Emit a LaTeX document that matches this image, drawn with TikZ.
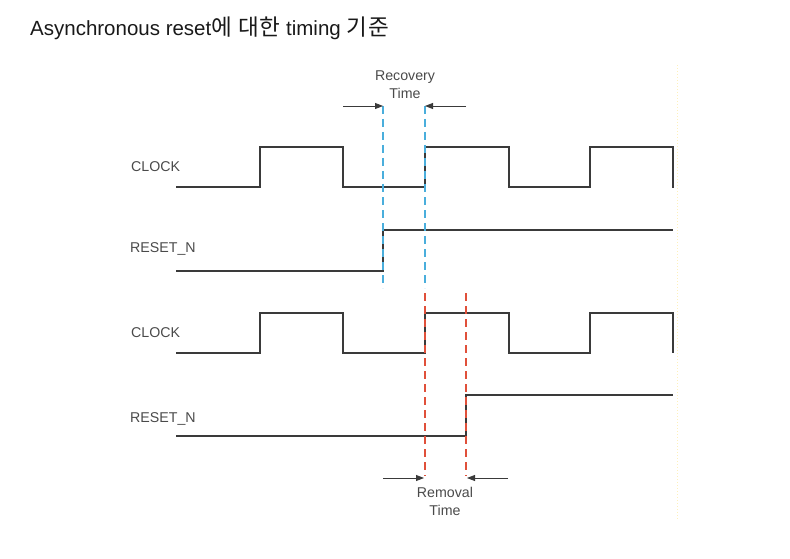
\documentclass[tikz,border=0pt]{standalone}
\usepackage{fontspec}
\setmainfont{Liberation Sans}
\newfontfamily\krfont{Noto Sans CJK KR}[Scale=1.1,LetterSpace=4]
\usetikzlibrary{arrows.meta}
\definecolor{sig}{HTML}{3A3A3A}
\definecolor{lbl}{HTML}{4A4A4A}
\definecolor{bluedash}{HTML}{4AAEDC}
\definecolor{reddash}{HTML}{E0503A}
\begin{document}
\begin{tikzpicture}[x=1pt,y=-1pt,
  wave/.style={draw=sig,line width=1.8pt,line join=miter},
  lab/.style={text=lbl,font=\fontsize{14.2}{15}\selectfont,inner sep=0pt},
  bdash/.style={draw=bluedash,line width=1.8pt,dash pattern=on 8pt off 5pt},
  rdash/.style={draw=reddash,line width=1.8pt,dash pattern=on 8pt off 5pt},
  marr/.style={draw=sig,line width=0.9pt,-{Triangle[length=8pt,width=6pt]}}]
\useasboundingbox (0,0) rectangle (790,559);
% title
\node[anchor=west,inner sep=0pt,text=black!90,font=\fontsize{20.5}{22}\selectfont] (title) at (30,28)
  {Asynchronous reset{\krfont\fontseries{l}\selectfont 에 대한} timing {\krfont 기준}};
% faint border line
\draw[draw=yellow!60!orange!25,line width=1pt,dotted] (677,65) -- (677,520);
% labels
\node[lab,anchor=west] (clk1) at (131,167) {CLOCK};
\node[lab,anchor=west] (rst1) at (130,249) {RESET\_N};
\node[lab,anchor=west] (clk2) at (131,333) {CLOCK};
\node[lab,anchor=west] (rst2) at (130,419) {RESET\_N};
% waveforms
\draw[wave] (176,187) -- (260,187) -- (260,147) -- (343,147) -- (343,187) -- (425,187) -- (425,147)
  -- (509,147) -- (509,187) -- (590,187) -- (590,147) -- (673,147) -- (673,188);
\draw[wave] (176,271) -- (383,271) -- (383,230) -- (673,230);
\draw[wave] (176,353) -- (260,353) -- (260,313) -- (343,313) -- (343,353) -- (425,353) -- (425,313)
  -- (509,313) -- (509,353) -- (590,353) -- (590,313) -- (673,313) -- (673,353);
\draw[wave] (176,436) -- (466,436) -- (466,395) -- (673,395);
% recovery
\coordinate (b1t) at (383,106); \coordinate (b1b) at (383,288);
\coordinate (b2t) at (425,106); \coordinate (b2b) at (425,288);
\draw[bdash] (b1t) -- (b1b);
\draw[bdash] (b2t) -- (b2b);
\coordinate (ra1) at (343,106); \coordinate (ra2) at (466,106);
\draw[marr] (ra1) -- (b1t);
\draw[marr] (ra2) -- (b2t);
\node[lab,align=center,font=\fontsize{14.2}{18}\selectfont] (rec) at (405,85) {Recovery\\Time};
% removal
\coordinate (r1t) at (425,293); \coordinate (r1b) at (425,476);
\coordinate (r2t) at (466,293); \coordinate (r2b) at (466,476);
\draw[rdash] (r1t) -- (r1b);
\draw[rdash] (r2t) -- (r2b);
\coordinate (ma1) at (383,478); \coordinate (ma2) at (508,478);
\draw[marr] (ma1) -- (424,478);
\draw[marr] (ma2) -- (467,478);
\node[lab,align=center,font=\fontsize{14.2}{18}\selectfont] (rem) at (445,501) {Removal\\Time};
\end{tikzpicture}
\end{document}
